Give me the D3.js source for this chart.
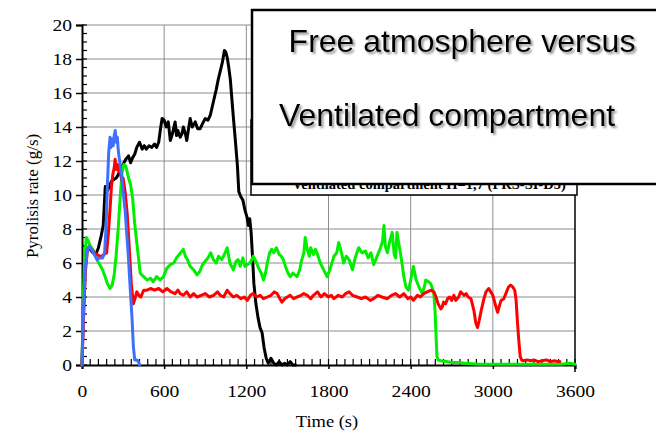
<!DOCTYPE html>
<html>
<head>
<meta charset="utf-8">
<script src="https://cdn.jsdelivr.net/npm/d3@7"></script>
<style>
  body { margin: 0; background: #fff; }
  svg { display: block; }
</style>
</head>
<body>
<div id="chart"></div>
<script>
// axis ticks
let xTicks = [0, 600, 1200, 1800, 2400, 3000, 3600];
let yTicks = [0, 2, 4, 6, 8, 10, 12, 14, 16, 18, 20];

// series, [time (s), pyrolisis rate (g/s)]
let blackSeries = [[0,0],[10,3.5],[25,6.5],[45,6.9],[60,6.8],[80,6.6],[100,6.5],[120,6.9],[140,7.6],[155,8.2],[170,10.5],[180,10.2],[195,10.4],[215,10.8],[230,10.9],[250,11.0],[265,11.2],[280,11.5],[300,11.8],[320,12.1],[340,12.3],[355,11.9],[370,12.2],[385,12.4],[400,12.8],[420,13.1],[440,12.7],[455,12.9],[470,12.7],[490,12.9],[510,12.8],[530,13.0],[545,12.8],[560,13.1],[575,14.0],[585,14.5],[600,14.4],[615,14.0],[630,14.3],[645,13.2],[660,13.6],[680,14.3],[690,13.5],[700,13.8],[717,13.4],[730,13.6],[740,14.0],[755,13.6],[765,13.2],[780,14.0],[790,14.5],[805,14.0],[827,14.3],[845,13.9],[863,13.9],[880,14.2],[900,14.5],[920,14.4],[937,14.7],[960,15.5],[980,16.2],[995,16.8],[1010,17.3],[1025,17.8],[1040,18.5],[1050,18.4],[1060,18.1],[1070,17.6],[1083,16.8],[1095,15.6],[1105,14.6],[1120,13.2],[1135,11.7],[1145,10.2],[1160,9.9],[1175,9.7],[1190,9.1],[1205,8.7],[1215,8.2],[1225,8.6],[1235,7.8],[1245,6.4],[1255,4.8],[1270,3.6],[1285,2.8],[1300,2.2],[1315,1.9],[1330,1.0],[1345,0.4],[1360,0.1],[1380,0.4],[1400,0.1],[1420,0.0],[1440,0.2],[1460,0.0],[1480,0.1],[1500,0.0],[1520,0.2],[1540,0.0],[1560,0.0]];

let greenSeries = [[0,0],[10,4.0],[20,6.5],[32,7.5],[45,7.3],[60,7.0],[80,6.8],[100,6.4],[115,6.1],[130,5.9],[150,5.6],[168,5.2],[185,4.8],[205,4.5],[220,4.7],[235,5.3],[250,6.5],[265,8.1],[280,10.0],[292,11.3],[305,11.8],[320,11.7],[340,11.0],[355,10.6],[370,9.8],[385,8.3],[400,7.2],[410,6.5],[425,5.4],[450,5.2],[475,5.0],[500,5.1],[520,4.9],[545,5.2],[570,5.0],[595,5.2],[620,5.7],[645,5.9],[670,6.0],[690,6.3],[710,6.5],[740,6.8],[755,6.4],[770,6.2],[790,5.8],[815,5.6],[840,5.3],[860,5.5],[880,5.9],[900,6.1],[920,6.3],[940,6.6],[960,6.2],[980,6.0],[997,6.4],[1020,6.2],[1040,6.5],[1060,6.9],[1080,6.0],[1105,5.6],[1125,6.1],[1140,6.2],[1155,5.8],[1175,6.3],[1190,5.8],[1207,5.9],[1225,6.0],[1240,6.2],[1250,6.4],[1270,6.1],[1290,5.7],[1310,5.4],[1325,5.0],[1340,5.4],[1353,6.0],[1370,6.6],[1385,6.8],[1400,6.6],[1420,6.9],[1440,6.5],[1455,6.4],[1470,6.2],[1490,5.7],[1505,5.4],[1520,5.2],[1540,5.4],[1570,5.2],[1590,5.6],[1605,6.2],[1620,6.6],[1630,7.5],[1645,6.8],[1660,6.4],[1670,6.9],[1690,6.5],[1705,6.8],[1720,6.5],[1740,6.0],[1765,5.6],[1790,5.2],[1810,5.6],[1840,6.4],[1860,6.6],[1875,7.2],[1895,6.6],[1910,6.0],[1930,6.4],[1950,6.2],[1975,5.6],[1995,6.3],[2020,6.9],[2045,6.6],[2070,6.7],[2090,6.3],[2110,6.6],[2130,5.9],[2150,6.3],[2165,6.6],[2180,6.9],[2195,7.3],[2205,8.2],[2215,7.0],[2230,6.6],[2245,7.2],[2265,7.8],[2280,6.5],[2290,6.3],[2300,7.8],[2312,7.2],[2325,6.6],[2340,5.8],[2350,5.2],[2365,4.6],[2385,4.4],[2400,5.0],[2420,5.8],[2440,5.0],[2460,4.6],[2485,4.2],[2500,4.6],[2510,5.0],[2530,4.9],[2545,4.8],[2560,4.5],[2570,4.1],[2578,3.2],[2585,1.8],[2592,0.5],[2600,0.3],[2620,0.25],[2660,0.2],[2700,0.15],[2740,0.15],[2800,0.1],[2900,0.05],[3000,0.05],[3100,0.05],[3200,0.05],[3300,0.05],[3400,0.05],[3500,0.05],[3560,0.1],[3600,0.05]];

let redSeries = [[0,0],[10,2.5],[25,5.5],[40,6.8],[55,6.9],[70,6.8],[90,6.6],[110,6.5],[130,6.4],[145,6.4],[160,6.5],[180,6.6],[195,8.0],[205,9.2],[215,10.5],[225,11.2],[235,11.6],[242,12.1],[250,11.5],[258,11.8],[268,11.4],[280,11.3],[292,10.8],[300,11.0],[315,10.2],[330,8.9],[340,7.6],[350,6.2],[360,4.8],[375,3.6],[390,4.0],[400,4.3],[415,4.1],[430,4.0],[450,4.4],[475,4.4],[500,4.5],[530,4.4],[560,4.5],[590,4.3],[620,4.5],[650,4.3],[680,4.2],[700,4.4],[717,4.2],[740,4.1],[765,4.3],[790,4.0],[815,4.2],[840,4.0],[870,4.1],[900,4.2],[930,4.0],[960,4.1],[990,4.3],[1010,4.1],[1035,4.0],[1060,4.4],[1080,4.2],[1105,4.0],[1130,4.1],[1160,3.9],[1185,4.0],[1207,3.8],[1230,4.1],[1250,4.2],[1275,4.0],[1300,4.1],[1325,3.9],[1353,4.0],[1380,4.1],[1405,4.3],[1425,4.2],[1445,3.9],[1460,3.7],[1480,3.9],[1500,4.0],[1520,4.1],[1545,3.9],[1570,4.0],[1600,4.1],[1620,4.2],[1645,4.1],[1670,3.9],[1690,4.1],[1720,4.3],[1745,4.0],[1770,4.2],[1800,4.0],[1820,4.1],[1840,3.9],[1870,4.1],[1900,4.0],[1925,4.2],[1950,4.3],[1975,4.1],[2010,4.0],[2040,3.9],[2070,4.0],[2105,3.8],[2130,3.9],[2160,4.1],[2190,4.0],[2230,3.9],[2260,4.1],[2290,4.2],[2320,4.0],[2350,4.2],[2380,3.9],[2400,4.0],[2420,3.8],[2450,4.1],[2470,4.0],[2495,4.2],[2520,4.3],[2550,4.4],[2570,4.3],[2585,4.0],[2600,3.6],[2620,3.3],[2630,3.4],[2640,3.7],[2655,3.6],[2670,3.9],[2685,4.0],[2700,3.8],[2715,4.1],[2730,3.8],[2750,4.0],[2765,4.3],[2790,4.1],[2805,4.2],[2820,4.0],[2840,3.9],[2850,3.6],[2862,3.2],[2875,2.5],[2888,2.2],[2900,2.6],[2915,3.2],[2935,3.9],[2950,4.3],[2970,4.5],[2985,4.3],[3000,4.1],[3020,3.5],[3035,3.1],[3045,3.4],[3060,3.8],[3080,3.9],[3100,4.3],[3115,4.6],[3130,4.7],[3145,4.6],[3160,4.4],[3170,3.8],[3180,2.5],[3190,1.4],[3200,0.5],[3210,0.3],[3220,0.25],[3250,0.3],[3280,0.25],[3300,0.3],[3330,0.2],[3360,0.25],[3390,0.3],[3420,0.2],[3450,0.25],[3475,0.2],[3490,0.2]];

let blueSeries = [[0,0],[10,3],[25,5.8],[40,6.8],[55,7.0],[70,6.8],[90,6.5],[110,6.2],[130,6.3],[150,6.3],[165,6.6],[175,8.0],[185,10.5],[195,12.5],[205,13.4],[212,12.8],[220,13.3],[228,12.9],[235,13.5],[243,13.8],[250,13.1],[258,13.4],[265,12.6],[278,11.8],[290,11.1],[303,10.0],[315,9.1],[328,7.6],[340,6.2],[352,4.5],[365,2.8],[375,1.1],[385,0.3],[400,0.3],[412,0.2],[420,0]];

let seriesList = [
  {data: blackSeries, color: "#000000"},
  {data: greenSeries, color: "#00ee00"},
  {data: redSeries, color: "#ff0000"},
  {data: blueSeries, color: "#3f6fff"}
];

let titleLines = ["Free atmosphere versus", "Ventilated compartment"];
let hiddenTitle = "Ventilated compartment H=1,7 (PRS-SI-D5)";

let width = 656;
let height = 432;
let serif = "'Liberation Serif', 'Times New Roman', serif";
let stretch = 1.12; //the old chart's text is a bit wider than Times

let svg = d3.select("#chart")
    .append("svg")
    .attr("width", width)
    .attr("height", height);

// scales, plot area from the picture
let x = d3.scaleLinear().domain([0, 3600]).range([82, 575]);
let y = d3.scaleLinear().domain([0, 20]).range([365, 25]);

// grid
svg.append("g")
    .selectAll("line")
    .data(yTicks.slice(1))
    .join("line")
    .attr("x1", x(0)).attr("x2", x(3600))
    .attr("y1", d => y(d)).attr("y2", d => y(d))
    .attr("stroke", "#8c8c8c")
    .attr("stroke-width", 1);

svg.append("g")
    .selectAll("line")
    .data(xTicks.slice(1, -1))
    .join("line")
    .attr("x1", d => x(d)).attr("x2", d => x(d))
    .attr("y1", y(0)).attr("y2", y(20))
    .attr("stroke", "#8c8c8c")
    .attr("stroke-width", 1);

// minor ticks (inside)
let xMinor = d3.range(0, 3601, 60);
svg.append("g")
    .selectAll("line")
    .data(xMinor)
    .join("line")
    .attr("x1", d => x(d)).attr("x2", d => x(d))
    .attr("y1", y(0)).attr("y2", y(0) - 6)
    .attr("stroke", "#000")
    .attr("stroke-width", 1.2);

let yMinor = d3.range(0, 20.01, 0.5);
svg.append("g")
    .selectAll("line")
    .data(yMinor)
    .join("line")
    .attr("x1", x(0)).attr("x2", x(0) + 5)
    .attr("y1", d => y(d)).attr("y2", d => y(d))
    .attr("stroke", "#000")
    .attr("stroke-width", 1.2);

// axes
let xAxis = svg.append("g")
    .attr("transform", `translate(0,${y(0)})`)
    .call(d3.axisBottom(x).tickValues(xTicks).tickSize(4).tickPadding(16).tickFormat(d3.format("d")));

let yAxis = svg.append("g")
    .attr("transform", `translate(${x(0)},0)`)
    .call(d3.axisLeft(y).tickValues(yTicks).tickSize(6).tickPadding(4).tickFormat(d3.format("d")));

[xAxis, yAxis].forEach(function (ax) {
    ax.select(".domain").attr("stroke", "#000").attr("stroke-width", 2);
    ax.selectAll(".tick line").attr("stroke", "#000").attr("stroke-width", 1.5);
    ax.selectAll("text")
        .attr("fill", "#000")
        .attr("transform", `scale(${stretch},1)`)
        .style("font-family", serif)
        .style("font-size", "17.5px");
});
yAxis.selectAll("text").attr("x", -10 / stretch);

// right border
svg.append("line")
    .attr("x1", x(3600)).attr("x2", x(3600))
    .attr("y1", y(20)).attr("y2", y(0) + 7)
    .attr("stroke", "#000")
    .attr("stroke-width", 1.5);

// the lines
let line = d3.line()
    .x(d => x(d[0]))
    .y(d => y(d[1]));

svg.append("g")
    .selectAll("path")
    .data(seriesList)
    .join("path")
    .attr("d", d => line(d.data))
    .attr("fill", "none")
    .attr("stroke", d => d.color)
    .attr("stroke-width", 3)
    .attr("stroke-linejoin", "round")
    .attr("stroke-linecap", "round");

// axis labels
svg.append("text")
    .attr("transform", `translate(327,427) scale(${stretch},1)`)
    .attr("text-anchor", "middle")
    .style("font-family", serif)
    .style("font-size", "16.5px")
    .text("Time (s)");

svg.append("text")
    .attr("transform", "translate(38,196) rotate(-90) scale(1.06,1)")
    .attr("text-anchor", "middle")
    .style("font-family", serif)
    .style("font-size", "16px")
    .text("Pyrolisis rate (g/s)");

// old chart title box, mostly hidden
svg.append("rect")
    .attr("x", 251).attr("y", 120)
    .attr("width", 326).attr("height", 75)
    .attr("fill", "#fff")
    .attr("stroke", "#000")
    .attr("stroke-width", 1.5);

svg.append("text")
    .attr("x", 429)
    .attr("y", 189)
    .attr("text-anchor", "middle")
    .style("font-family", serif)
    .style("font-weight", "bold")
    .style("font-size", "14.5px")
    .text(hiddenTitle);

// shadow for the overlay text
let defs = svg.append("defs");
defs.append("filter")
    .attr("id", "shadow")
    .attr("x", "-10%").attr("y", "-30%")
    .attr("width", "120%").attr("height", "160%")
    .append("feDropShadow")
    .attr("dx", 2).attr("dy", 2)
    .attr("stdDeviation", 1.2)
    .attr("flood-color", "#777")
    .attr("flood-opacity", 0.8);

// overlay box
svg.append("rect")
    .attr("x", 252).attr("y", 10)
    .attr("width", 420).attr("height", 174)
    .attr("fill", "#fff")
    .attr("stroke", "#000")
    .attr("stroke-width", 2.5);

svg.append("g")
    .selectAll("text")
    .data(titleLines)
    .join("text")
    .attr("x", (d, i) => i == 0 ? 462 : 447)
    .attr("y", (d, i) => i == 0 ? 52 : 126)
    .attr("text-anchor", "middle")
    .attr("filter", "url(#shadow)")
    .style("font-family", "'Liberation Sans', Arial, sans-serif")
    .style("font-size", "32px")
    .text(d => d);
</script>
</body>
</html>
